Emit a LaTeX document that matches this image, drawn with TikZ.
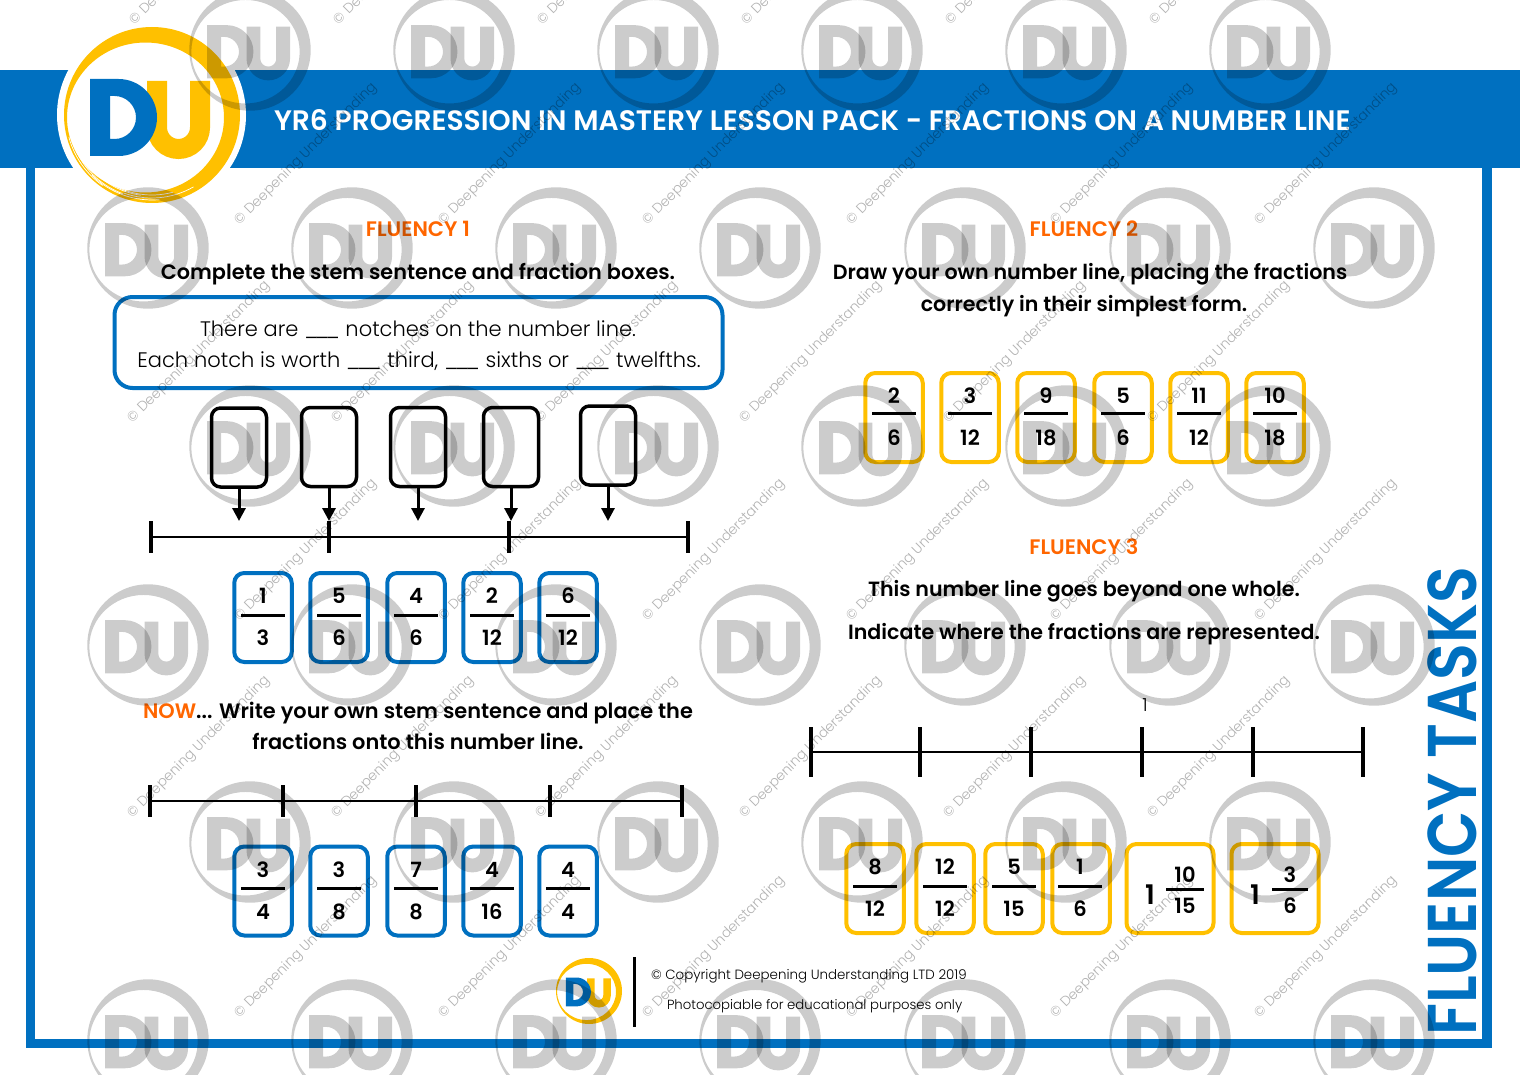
\documentclass[tikz,border=0pt]{standalone}
\usepackage{fontspec}
\setmainfont{Poppins}
\newfontfamily\pmed{Poppins SemiBold}
\newfontfamily\plight{Poppins Light}
\usetikzlibrary{arrows.meta}
\definecolor{dublue}{HTML}{0070C0}
\definecolor{duyellow}{HTML}{FFC000}
\definecolor{duorange}{HTML}{FF6600}
\newcommand{\blk}{\_\kern-3.5pt\_\kern-3.5pt\_}
\tikzset{
  fs/.style={font=\pmed\fontsize{#1}{#1}\selectfont,inner sep=0pt,outer sep=0pt,text height=#1*.7pt,text depth=0pt},
  lt/.style={font=\plight\fontsize{#1}{#1}\selectfont,inner sep=0pt,outer sep=0pt,text height=#1*.7pt,text depth=0pt},
  card/.style={draw=#1,line width=4pt,rounded corners=10pt,minimum width=57.5pt,minimum height=89pt,inner sep=0pt,outer sep=0pt},
  numlbl/.style={font=\pmed\fontsize{21}{21}\selectfont,inner sep=0pt,outer sep=0pt},
  blackbox/.style={draw=black,line width=3.5pt,rounded corners=9pt,minimum width=55pt,minimum height=79pt,inner sep=0pt,outer sep=0pt},
  pointer/.style={line width=3pt,-{Stealth[length=13pt,width=13pt,inset=0pt]}},
  axis/.style={line width=2.5pt},
  tick/.style={line width=3.2pt},
  fracbar/.style={line width=3pt},
}
% ring + D + U logo
\newcommand{\dulogo}[7]{%
  \begin{scope}[shift={(#1,#2)},scale=#3,fill opacity=#7,draw opacity=#7]
    \fill[#4,even odd rule] (0,0) circle[radius=88pt] (-6.5,2.5) ellipse[x radius=78.5pt,y radius=75pt];
    \draw[#6,line width=20pt*#3] (5,-34) -- (5,12.5) arc[start angle=180,end angle=360,radius=21.5pt] -- (48,-34);
    \fill[#5,even odd rule] (-62,-36) -- (-33.5,-36) arc[start angle=90,end angle=-90,radius=38.5pt] -- (-62,41) -- cycle
       (-42,-19) -- (-37.5,-19) arc[start angle=90,end angle=-90,radius=21.5pt] -- (-42,24) -- cycle;
  \end{scope}}
\newcommand{\frc}[7]{% name,x,ytop,ybar,ybot,num,den
  \node[numlbl] (#1n) at (#2,#3) {#6};
  \node[numlbl] (#1d) at (#2,#5) {#7};
  \coordinate (#1l) at (#2-22,#4);
  \coordinate (#1r) at (#2+22,#4);
  \draw[fracbar] (#1l) -- (#1r);}
\begin{document}
\begin{tikzpicture}[x=1pt,y=-1pt]
\useasboundingbox (0,0) rectangle (1520,1075);
\fill[white] (0,0) rectangle (1520,1075);
% frame
\fill[dublue] (26,168) rectangle (35,1048);
\fill[dublue] (1482,168) rectangle (1492,1048);
\fill[dublue] (26,1039) rectangle (1492,1048);
\fill[dublue] (0,70) rectangle (1520,168);
% main logo
\fill[white] (151.5,115) circle[radius=94.5pt];
\dulogo{152}{115}{1}{duyellow}{dublue}{duyellow}{1}
\foreach \r/\s/\e in {84/205/250,81/215/262,85/225/275,80/235/285,86/195/235,83/250/300,78.5/190/240}{
  \draw[white,line width=.7pt] (152,115) ++(\s:\r pt) arc[start angle=\s,end angle=\e,radius=\r pt];}
% title
\node[fs=28.15,text=white,anchor=west] (title) at (274,121) {YR6 PROGRESSION IN MASTERY LESSON PACK - FRACTIONS ON A NUMBER LINE};
% side label
\node[font=\pmed\fontsize{69}{69}\selectfont,inner sep=0pt,text=dublue,rotate=90,anchor=west] (side) at (1452,1036) {\scalebox{.875}[1]{FLUENCY TASKS}};
% Fluency 1
\node[fs=21,text=duorange] (h1) at (418,229) {FLUENCY 1};
\node[fs=20.8] (t1) at (418,272) {Complete the stem sentence and fraction boxes.};
\node[draw=dublue,line width=4pt,rounded corners=18pt,minimum width=608pt,minimum height=91pt,inner sep=0pt] (stem) at (418.5,342.5) {};
\node[lt=21] (s1) at (418,329) {There are \blk{} notches on the number line.};
\node[lt=21] (s2) at (419,360) {Each notch is worth \blk{} third,\kern6pt\blk{} sixths or \blk{} twelfths.};
% answer boxes
\node[blackbox] (b1) at (239,447.5) {};
\node[blackbox] (b2) at (329,447) {};
\node[blackbox] (b3) at (418,447) {};
\node[blackbox] (b4) at (511,447) {};
\node[blackbox] (b5) at (608,445.5) {};
\coordinate (p1) at (239,521);
\coordinate (p2) at (329,521);
\coordinate (p3) at (418,521);
\coordinate (p4) at (511,521);
\coordinate (p5) at (608,521);
\foreach \i in {1,...,5}{\draw[pointer] (b\i.south) -- (p\i);}
% number line 1
\coordinate (la) at (151,537); \coordinate (lb) at (688,537);
\draw[axis] (la) -- (lb);
\foreach \x/\n in {151/a,329/b,509/c,688/d}{
  \coordinate (t\n u) at (\x,521); \coordinate (t\n v) at (\x,553);
  \draw[tick] (t\n u) -- (t\n v);}
% blue cards row 1
\foreach \n/\x/\p/\q in {c1/263/1/3,c2/339/5/6,c3/416/4/6,c4/492/2/12,c5/568/6/12}{
  \node[card=dublue] (\n) at (\x,617.5) {};
  \frc{\n}{\x}{596}{615}{638}{\p}{\q}{}}
% NOW
\node[fs=20.9] (now1) at (418,711) {\textcolor{duorange}{NOW}... Write your own stem sentence and place the};
\node[fs=20.9] (now2) at (418,742) {fractions onto this number line.};
% number line 2
\coordinate (ma) at (150,801); \coordinate (mb) at (682,801);
\draw[axis] (ma) -- (mb);
\foreach \x/\n in {150/a,283/b,416/c,550/d,682/e}{
  \coordinate (m\n u) at (\x,785); \coordinate (m\n v) at (\x,817);
  \draw[tick] (m\n u) -- (m\n v);}
% blue cards row 2
\foreach \n/\x/\p/\q in {d1/263/3/4,d2/339/3/8,d3/416/7/8,d4/492/4/16,d5/568/4/4}{
  \node[card=dublue] (\n) at (\x,891) {};
  \frc{\n}{\x}{870}{888}{912}{\p}{\q}{}}
% Fluency 2
\node[fs=21,text=duorange] (h2) at (1084,229) {FLUENCY 2};
\node[fs=20.6] (t2) at (1090,272) {Draw your own number line, placing the fractions};
\node[fs=20.6] (t3) at (1084,304) {correctly in their simplest form.};
\foreach \n/\x/\p/\q in {e1/894/2/6,e2/970/3/12,e3/1046/9/18,e4/1123/5/6,e5/1199/11/12,e6/1275/10/18}{
  \node[card=duyellow] (\n) at (\x,417.5) {};
  \frc{\n}{\x}{396}{413}{438}{\p}{\q}{}}
% Fluency 3
\node[fs=21,text=duorange] (h3) at (1084,547) {FLUENCY 3};
\node[fs=20.6] (t4) at (1084,589) {This number line goes beyond one whole.};
\node[fs=20.6] (t5) at (1084,632) {Indicate where the fractions are represented.};
\node[lt=18] (one) at (1145,705) {1};
\coordinate (na) at (811,752); \coordinate (nb) at (1363,752);
\draw[axis] (na) -- (nb);
\foreach \x/\n in {811/a,920/b,1031/c,1142/d,1253/e,1363/f}{
  \coordinate (n\n u) at (\x,727); \coordinate (n\n v) at (\x,777);
  \draw[tick] (n\n u) -- (n\n v);}
\foreach \n/\x/\p/\q/\cx in {f1/875/8/12/875,f2/945/12/12/945,f3/1014/5/15/1014,f4/1080/1/6/1081}{
  \node[card=duyellow] (\n) at (\cx,888.5) {};
  \frc{\n}{\x}{867}{886}{909}{\p}{\q}{}}
\node[card=duyellow,minimum width=87pt] (g1) at (1170,888.5) {};
\node[numlbl,font=\pmed\fontsize{27}{27}\selectfont] (g1w) at (1150,895) {1};
\node[numlbl] (g1n) at (1185,875) {10};
\node[numlbl] (g1d) at (1185,906) {15};
\coordinate (g1l) at (1166,889); \coordinate (g1r) at (1204,889);
\draw[fracbar] (g1l) -- (g1r);
\node[card=duyellow,minimum width=87pt] (g2) at (1275,888.5) {};
\node[numlbl,font=\pmed\fontsize{27}{27}\selectfont] (g2w) at (1255,895) {1};
\node[numlbl] (g2n) at (1290,875) {3};
\node[numlbl] (g2d) at (1290,906) {6};
\coordinate (g2l) at (1272,889); \coordinate (g2r) at (1308,889);
\draw[fracbar] (g2l) -- (g2r);
% footer
\dulogo{589}{991}{.375}{duyellow}{dublue}{duyellow}{1}
\coordinate (sepa) at (634.5,957); \coordinate (sepb) at (634.5,1027);
\draw[line width=3.5pt] (sepa) -- (sepb);
\node[lt=13.4,anchor=west] (c1t) at (651,975) {© Copyright Deepening Understanding LTD 2019};
\node[lt=13.25,anchor=west] (c2t) at (667,1005) {Photocopiable for educational purposes only};
% watermark logos
\foreach \y in {50,446,842}{\foreach \x in {250,454,658,862,1066,1270}{
  \dulogo{\x}{\y}{.69}{black}{black}{black}{.2}}}
\foreach \y in {248,645,1040}{\foreach \x in {148,352,556,760,965,1170,1374}{
  \dulogo{\x}{\y}{.69}{black}{black}{black}{.2}}}
% watermark text
\foreach \y/\xo in {22/131,222/236,420/129,618/236,815/129,1015/236}{
  \foreach \k in {0,...,5}{
    \node[lt=13.8,text=black,text opacity=.3,rotate=45,anchor=west] at ({\xo+204*\k},\y) {© Deepening Understanding};}}
\end{tikzpicture}
\end{document}
